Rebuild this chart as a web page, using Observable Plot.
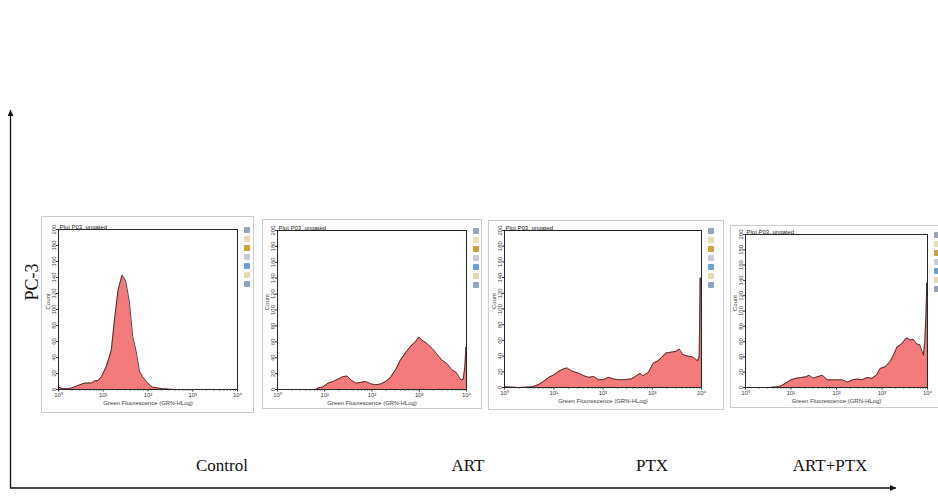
<!DOCTYPE html>
<html>
<head>
<meta charset="utf-8">
<script src="https://cdn.jsdelivr.net/npm/d3@7"></script>
<script src="https://cdn.jsdelivr.net/npm/@observablehq/plot@0.6"></script>
<style>
  html, body { margin: 0; padding: 0; background: #fff; }
  #wrap { position: relative; width: 938px; height: 502px; overflow: hidden; background: #fff; }
  .box { position: absolute; border: 1px solid #cdcdcd; background: #fff; box-sizing: border-box; }
  .box svg { display: block; }
  .icons { position: absolute; display: flex; flex-direction: column; gap: 3px; }
  .icons span { display: block; width: 6px; height: 6px; border-radius: 1px; }
  #outer { position: absolute; left: 0; top: 0; }
</style>
</head>
<body>
<div id="wrap"></div>
<script>
// ---- data (exponent of GRN-HLog decade, count) ----
const categories = ["Control", "ART", "PTX", "ART+PTX"];
const panelTitle = "Plot P03, ungated";
const xLabel = "Green Fluorescence (GRN-HLog)";
const yLabel = "Count";
const rowLabel = "PC-3";
const xTickExponents = [0, 1, 2, 3, 4];
const yTickValues = [0, 20, 40, 60, 80, 100, 120, 140, 160, 180, 200];

const controlX = [0, 0.1, 0.2, 0.3, 0.48, 0.59, 0.74, 0.81, 0.88, 0.96, 1.07, 1.18, 1.25, 1.33, 1.42, 1.50, 1.58, 1.66, 1.73, 1.81, 1.88, 1.99, 2.1, 2.32, 2.6, 4];
const controlY = [3, 1, 1, 2, 6, 8, 8, 11, 11, 16, 29, 49, 87, 124, 143, 136, 111, 66, 49, 23, 16, 8, 3, 1, 0, 0];

const artX = [0, 0.8, 0.86, 0.96, 1.07, 1.17, 1.28, 1.38, 1.47, 1.56, 1.66, 1.77, 1.87, 1.98, 2.08, 2.19, 2.29, 2.39, 2.5, 2.6, 2.71, 2.81, 2.92, 2.99, 3.06, 3.16, 3.27, 3.37, 3.48, 3.58, 3.69, 3.79, 3.88, 3.93, 3.965, 3.99, 4];
const artY = [0, 0, 2, 3, 8, 10, 13, 16, 17, 12, 8, 9, 10, 7, 6, 7, 10, 15, 25, 37, 46, 54, 60, 66, 62, 58, 52, 45, 37, 33, 25, 21, 12, 13, 29, 54, 0];

const ptxX = [0, 0.3, 0.57, 0.7, 0.8, 0.9, 1.0, 1.11, 1.21, 1.27, 1.34, 1.41, 1.51, 1.61, 1.71, 1.81, 1.91, 2.01, 2.11, 2.21, 2.31, 2.45, 2.58, 2.68, 2.75, 2.81, 2.92, 3.02, 3.12, 3.22, 3.28, 3.38, 3.48, 3.55, 3.62, 3.72, 3.82, 3.92, 3.953, 3.973, 3.987, 4];
const ptxY = [1, 0, 1, 4, 8, 13, 16, 21, 24, 25, 22, 20, 18, 15, 13, 14, 10, 10, 13, 11, 10, 10, 11, 15, 18, 15, 19, 31, 34, 40, 44, 45, 46, 49, 42, 40, 39, 34, 40, 140, 128, 0];

const comboX = [0, 0.53, 0.68, 0.78, 0.89, 1.0, 1.11, 1.22, 1.33, 1.4, 1.49, 1.58, 1.69, 1.8, 1.91, 2.02, 2.13, 2.24, 2.35, 2.45, 2.56, 2.67, 2.78, 2.89, 2.96, 3.07, 3.18, 3.25, 3.33, 3.43, 3.54, 3.62, 3.69, 3.76, 3.83, 3.91, 3.94, 3.965, 3.985, 4];
const comboY = [0, 0, 1, 2, 6, 10, 12, 13, 14, 16, 12, 14, 16, 10, 10, 10, 10, 7, 10, 11, 10, 13, 12, 17, 25, 27, 34, 42, 53, 57, 65, 62, 63, 57, 56, 42, 60, 94, 137, 0];

const series = [[controlX, controlY], [artX, artY], [ptxX, ptxY], [comboX, comboY]];

// ---- layout ----
const boxes = [
  {left: 41, top: 216, w: 213, h: 197, ml: 16, mt: 12, mr: 16, mb: 23},
  {left: 262, top: 219, w: 220, h: 190, ml: 14, mt: 10, mr: 15, mb: 19},
  {left: 488, top: 220, w: 236, h: 190, ml: 15, mt: 9, mr: 22, mb: 22},
  {left: 730, top: 225, w: 218, h: 183, ml: 14, mt: 8, mr: 20, mb: 20}
];
const labelPos = [222, 468, 652, 830];

const sup = ["\u2070", "\u00B9", "\u00B2", "\u00B3", "\u2074"];
const minorTicks = [];
for (let e = 0; e < 4; e++) for (let k = 2; k <= 9; k++) minorTicks.push(e + Math.log10(k));

const iconColors = ["#9aa6b8", "#e8dcb0", "#c9a23a", "#c8ccd6", "#6f9fd0", "#e6d9b4", "#8fa3bf"];

const wrap = document.getElementById("wrap");

series.forEach(([xs, ys], i) => {
  const b = boxes[i];
  const data = xs.map((x, j) => ({x, y: ys[j]}));
  const chart = Plot.plot({
    width: b.w - 2, height: b.h - 2,
    marginLeft: b.ml, marginTop: b.mt, marginRight: b.mr, marginBottom: b.mb,
    style: {fontFamily: "'Liberation Sans', Arial, sans-serif", fontSize: "6px", background: "transparent", color: "#444", overflow: "visible"},
    x: {domain: [0, 4], label: null},
    y: {domain: [0, 200], label: null},
    marks: [
      Plot.areaY(data, {x: "x", y: "y", fill: "#f47b7b", clip: true}),
      Plot.lineY(data, {x: "x", y: "y", stroke: "#2a1a1a", strokeWidth: 0.8, clip: true}),
      Plot.frame({stroke: "#111", strokeWidth: 0.9}),
      Plot.axisX(minorTicks, {tickSize: 1.5, tickFormat: () => "", label: null, stroke: "#333"}),
      Plot.axisX(xTickExponents, {tickSize: 2.5, tickPadding: 1, tickFormat: d => "10" + sup[d], label: xLabel, labelAnchor: "center", labelArrow: "none", labelOffset: 15, fill: "#444", stroke: "#333"}),
      Plot.axisY(yTickValues, {tickSize: 2, tickPadding: 1, tickRotate: -90, label: null, fill: "#444", stroke: "#333"}),
      Plot.text([yLabel], {frameAnchor: "left", rotate: -90, dx: -10, fill: "#444"}),
      Plot.text([panelTitle], {frameAnchor: "top-left", textAnchor: "start", lineAnchor: "bottom", dx: 1, dy: -0.5, fill: "#222"})
    ]
  });
  const div = document.createElement("div");
  div.className = "box";
  div.style.left = b.left + "px";
  div.style.top = b.top + "px";
  div.style.width = b.w + "px";
  div.style.height = b.h + "px";
  div.appendChild(chart);
  const ic = document.createElement("div");
  ic.className = "icons";
  ic.style.left = (b.w - b.mr + 5) + "px";
  ic.style.top = (b.mt - 2) + "px";
  iconColors.forEach(c => { const s = document.createElement("span"); s.style.background = c; ic.appendChild(s); });
  div.appendChild(ic);
  wrap.appendChild(div);
});

// ---- outer axes with arrows and labels ----
const svg = d3.select("#wrap").append("svg").attr("id", "outer").attr("width", 938).attr("height", 502);
const defs = svg.append("defs");
defs.append("marker").attr("id", "ah").attr("viewBox", "0 0 10 10").attr("refX", 10).attr("refY", 5)
  .attr("markerWidth", 10).attr("markerHeight", 6).attr("markerUnits", "userSpaceOnUse").attr("orient", "auto")
  .append("path").attr("d", "M0,0 L10,5 L0,10 Z").attr("fill", "#111");
svg.append("line").attr("x1", 10.5).attr("y1", 488).attr("x2", 10.5).attr("y2", 110)
  .attr("stroke", "#111").attr("stroke-width", 1.3).attr("marker-end", "url(#ah)");
svg.append("line").attr("x1", 10).attr("y1", 488).attr("x2", 896).attr("y2", 488)
  .attr("stroke", "#111").attr("stroke-width", 1.3).attr("marker-end", "url(#ah)");
svg.selectAll("text.cat").data(categories).join("text").attr("class", "cat")
  .attr("x", (d, i) => labelPos[i]).attr("y", 471).attr("text-anchor", "middle")
  .attr("font-family", "'Liberation Serif', 'Times New Roman', serif").attr("font-size", 17).attr("fill", "#111")
  .text(d => d);
svg.append("text").attr("transform", "translate(38,282) rotate(-90)").attr("text-anchor", "middle")
  .attr("font-family", "'Liberation Serif', 'Times New Roman', serif").attr("font-size", 18).attr("fill", "#111")
  .text(rowLabel);
</script>
</body>
</html>
